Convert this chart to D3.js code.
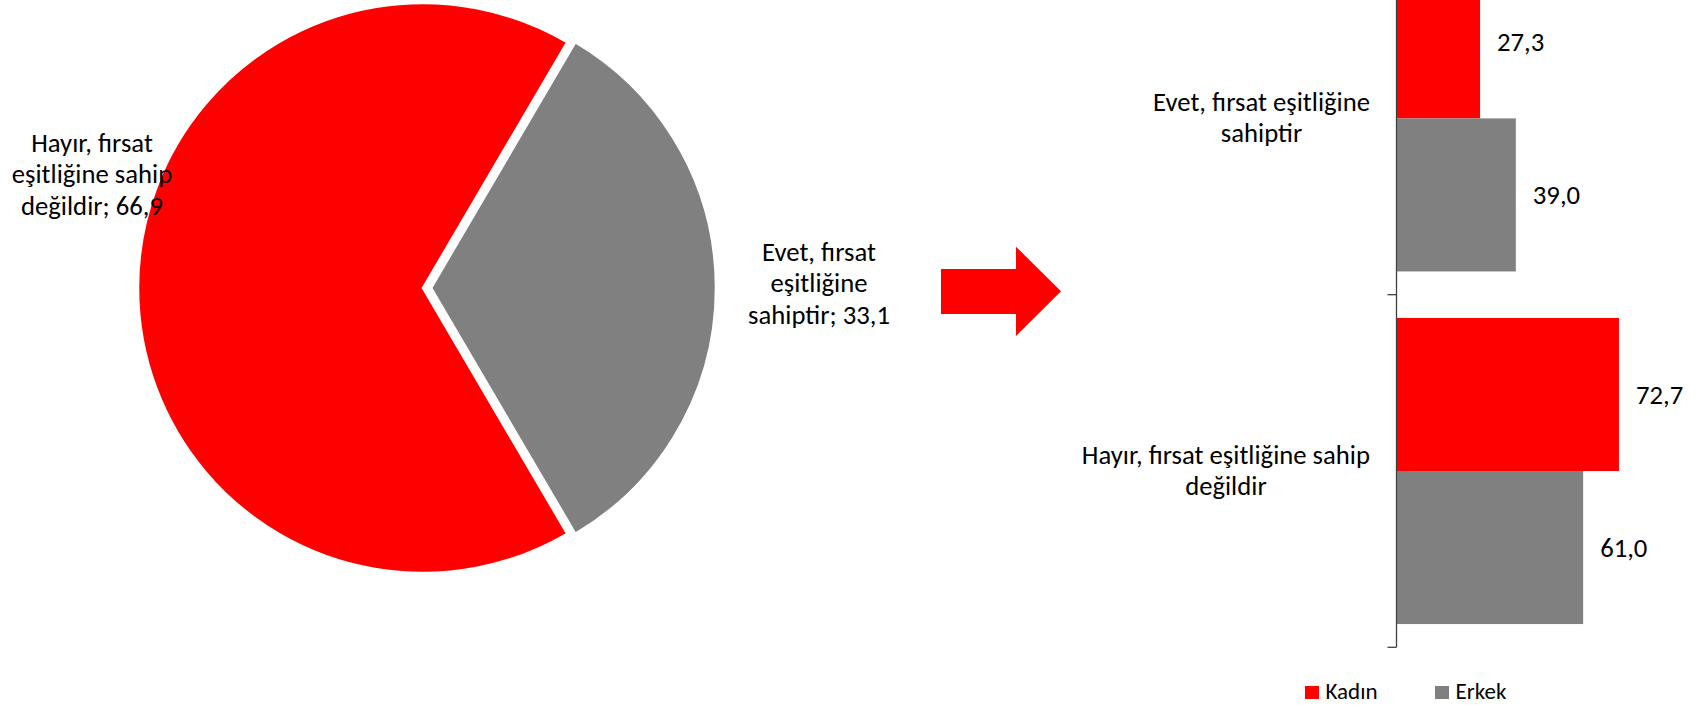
<!DOCTYPE html>
<html>
<head>
<meta charset="utf-8">
<script src="https://cdn.jsdelivr.net/npm/d3@7"></script>
<style>
  html, body { margin: 0; padding: 0; background: #fff; }
  svg { display: block; }
  text { font-family: Carlito, Calibri, Lato, sans-serif; fill: #000; }
</style>
</head>
<body>
<svg id="chart" width="1703" height="705"></svg>
<script>
// ---- Data ----
const pieLabels = [["Hayır, fırsat", "eşitliğine sahip", "değildir; 66,9"], ["Evet, fırsat", "eşitliğine", "sahiptir; 33,1"]];
const pieKeys = ["Hayır", "Evet"];
const pieValues = [66.9, 33.1];
const pieColors = ["#FF0000", "#808080"];

const barCategories = ["Evet, fırsat eşitliğine sahiptir", "Hayır, fırsat eşitliğine sahip değildir"];
const barCategoryLines = [["Evet, fırsat eşitliğine", "sahiptir"], ["Hayır, fırsat eşitliğine sahip", "değildir"]];
const seriesNames = ["Kadın", "Erkek"];
const kadinValues = [27.3, 72.7];
const erkekValues = [39.0, 61.0];
const seriesColors = ["#FF0000", "#808080"];

const fmt = v => d3.format(".1f")(v).replace(".", ",");

const svg = d3.select("#chart");
const FS = 26.7;

// ---- Pie ----
const cx = 423, cy = 288, R = 285;
const grayAngle = pieValues[1] / 100 * 2 * Math.PI;
const start = Math.PI / 2 + grayAngle / 2;
const pie = d3.pie().sort(null).value(d => d).startAngle(start).endAngle(start + 2 * Math.PI);
const arcs = pie(pieValues);
const arc = d3.arc().innerRadius(0).outerRadius(R);
const explode = [0, 8];
const gPie = svg.append("g").attr("transform", `translate(${cx},${cy})`);
gPie.selectAll("path").data(arcs).join("path")
  .attr("d", arc)
  .attr("transform", (d, i) => {
    const a = (d.startAngle + d.endAngle) / 2;
    return `translate(${Math.sin(a) * explode[i]},${-Math.cos(a) * explode[i]})`;
  })
  .attr("fill", (d, i) => pieColors[i])
  .attr("stroke", "#fff").attr("stroke-width", 2.5).attr("stroke-linejoin", "miter");

const pieLabelPos = [[92, 152], [819, 261]];
pieLabels.forEach((lines, i) => {
  const t = svg.append("text").attr("text-anchor", "middle").attr("font-size", FS);
  lines.forEach((ln, j) => {
    t.append("tspan").attr("x", pieLabelPos[i][0]).attr("y", pieLabelPos[i][1] + j * 31.3).text(ln);
  });
});

// ---- Arrow ----
const arrowPts = [[941, 269], [1016, 269], [1016, 246.7], [1061, 291.3], [1016, 336], [1016, 314], [941, 314]];
svg.append("path").attr("d", d3.line()(arrowPts) + "Z").attr("fill", "#FF0000");

// ---- Bar chart ----
const x = d3.scaleLinear().domain([0, 100]).range([1396.5, 1702.5]);
const y = d3.scaleBand().domain(barCategories).range([-57.9, 647.3]).padding(0);
const bw = y.bandwidth();
const ySub = d3.scaleBand().domain(seriesNames).range([0, bw]).paddingInner(0).paddingOuter(0.152);
const seriesValues = [kadinValues, erkekValues];

const gBars = svg.append("g");
seriesNames.forEach((s, si) => {
  gBars.selectAll(null).data(barCategories).join("rect")
    .attr("x", x(0))
    .attr("y", c => y(c) + ySub(s))
    .attr("width", (c, ci) => x(seriesValues[si][ci]) - x(0))
    .attr("height", ySub.bandwidth())
    .attr("fill", seriesColors[si]);
  gBars.selectAll(null).data(barCategories).join("text")
    .attr("x", (c, ci) => x(seriesValues[si][ci]) + 17)
    .attr("y", c => y(c) + ySub(s) + ySub.bandwidth() / 2)
    .attr("dy", "0.35em")
    .attr("font-size", FS)
    .text((c, ci) => fmt(seriesValues[si][ci]));
});

// axis line + boundary ticks
const axisG = svg.append("g").attr("stroke", "#404040").attr("stroke-width", 1.3).attr("fill", "none");
axisG.append("line").attr("x1", x(0)).attr("x2", x(0)).attr("y1", y.range()[0]).attr("y2", y.range()[1]);
const tickYs = [y.range()[0]].concat(barCategories.map(c => y(c) + bw));
axisG.selectAll(null).data(tickYs).join("line")
  .attr("x1", x(0) - 9).attr("x2", x(0)).attr("y1", d => d).attr("y2", d => d);

// category labels
barCategoryLines.forEach((lines, i) => {
  const yc = y(barCategories[i]) + bw / 2;
  const t = svg.append("text").attr("font-size", FS).attr("text-anchor", "middle");
  const spans = lines.map((ln, j) => t.append("tspan")
    .attr("y", yc + (j - (lines.length - 1) / 2) * 31.3 - 1)
    .attr("dy", "0.35em").text(ln));
  const maxW = d3.max(spans, s => s.node().getComputedTextLength());
  spans.forEach(s => s.attr("x", 1370 - maxW / 2));
});

// legend
const legX = [1305, 1435];
seriesNames.forEach((s, i) => {
  svg.append("rect").attr("x", legX[i]).attr("y", 686).attr("width", 14).attr("height", 13).attr("fill", seriesColors[i]);
  svg.append("text").attr("x", legX[i] + 20.5).attr("y", 699).attr("font-size", 23).text(s);
});
</script>
</body>
</html>
